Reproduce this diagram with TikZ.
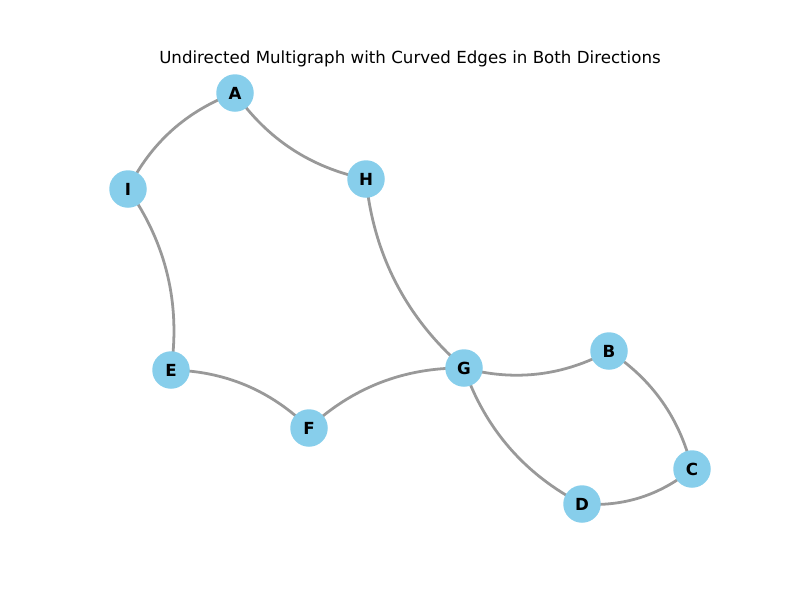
\documentclass[tikz,border=0pt]{standalone}
\usepackage{fontspec}
\setmainfont{DejaVu Sans}
\usetikzlibrary{backgrounds}
\definecolor{nodeblue}{HTML}{87CEEB}
\definecolor{edgegray}{HTML}{999999}
\begin{document}
\begin{tikzpicture}[x=0.72pt,y=0.72pt,
  vertex/.style={circle,fill=nodeblue,draw=none,minimum size=27pt,inner sep=0pt,font=\bfseries\fontsize{12}{14}\selectfont},
  edge/.style={draw=edgegray,line width=2pt,bend right=21.8,looseness=0.917},
  title/.style={font=\fontsize{12}{14}\selectfont,inner sep=0pt}]
\useasboundingbox (0,0) rectangle (800,-600);
\node[title] (T) at (410,-59) {Undirected Multigraph with Curved Edges in Both Directions};
\node[vertex] (A) at (235,-93) {A};
\node[vertex] (H) at (366,-179) {H};
\node[vertex] (I) at (128,-189) {I};
\node[vertex] (E) at (171,-370) {E};
\node[vertex] (F) at (309,-428) {F};
\node[vertex] (G) at (464,-368) {G};
\node[vertex] (B) at (609,-351) {B};
\node[vertex] (C) at (692,-469) {C};
\node[vertex] (D) at (582,-504) {D};
\begin{scope}[on background layer]
\draw[edge] (A.center) to (I.center);
\draw[edge] (A.center) to (H.center);
\draw[edge] (E.center) to (I.center);
\draw[edge] (H.center) to (G.center);
\draw[edge] (F.center) to (E.center);
\draw[edge] (G.center) to (F.center);
\draw[edge] (G.center) to (B.center);
\draw[edge] (G.center) to (D.center);
\draw[edge] (C.center) to (B.center);
\draw[edge] (D.center) to (C.center);
\end{scope}
\end{tikzpicture}
\end{document}
